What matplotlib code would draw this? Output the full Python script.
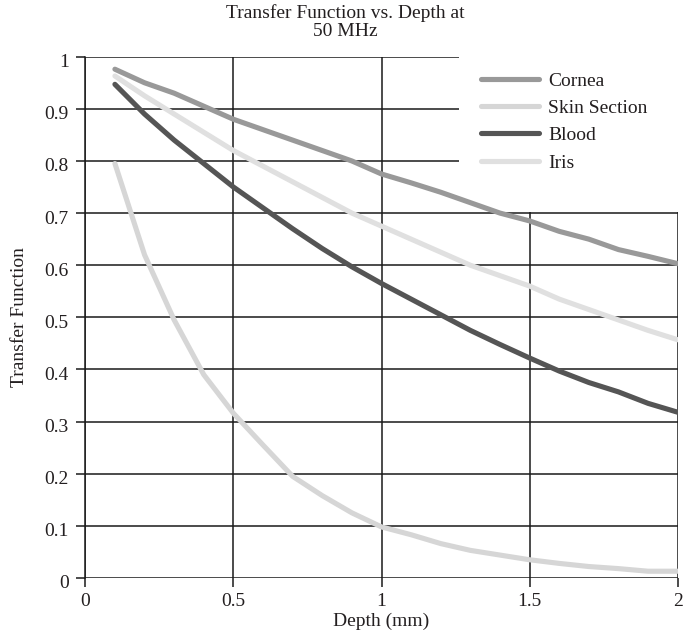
import matplotlib
matplotlib.use("Agg")
import matplotlib.pyplot as plt
from matplotlib.patches import Rectangle
from matplotlib.transforms import ScaledTranslation

depth = [0.1, 0.2, 0.3, 0.4, 0.5, 0.6, 0.7, 0.8, 0.9, 1.0,
         1.1, 1.2, 1.3, 1.4, 1.5, 1.6, 1.7, 1.8, 1.9, 2.0]
cornea = [0.976, 0.950, 0.930, 0.905, 0.880, 0.860, 0.840, 0.820, 0.800, 0.775,
          0.758, 0.740, 0.720, 0.700, 0.685, 0.665, 0.650, 0.630, 0.617, 0.603]
skin_section = [0.795, 0.620, 0.495, 0.390, 0.316, 0.255, 0.195, 0.158, 0.125, 0.098,
                0.083, 0.066, 0.053, 0.044, 0.035, 0.028, 0.022, 0.018, 0.013, 0.013]
blood = [0.947, 0.890, 0.840, 0.795, 0.750, 0.710, 0.670, 0.632, 0.597, 0.565,
         0.535, 0.505, 0.475, 0.448, 0.422, 0.397, 0.375, 0.357, 0.335, 0.318]
iris = [0.963, 0.925, 0.890, 0.855, 0.820, 0.790, 0.760, 0.730, 0.700, 0.675,
        0.650, 0.625, 0.600, 0.580, 0.560, 0.535, 0.515, 0.495, 0.475, 0.457]

series_names = ["Cornea", "Skin Section", "Blood", "Iris"]
series_values = [cornea, skin_section, blood, iris]
series_colors = ["#999999", "#d6d6d6", "#555555", "#e0e0e0"]

x_ticks = [0, 0.5, 1, 1.5, 2]
x_tick_labels = ["0", "0.5", "1", "1.5", "2"]
y_ticks = [0, 0.1, 0.2, 0.3, 0.4, 0.5, 0.6, 0.7, 0.8, 0.9, 1.0]
y_tick_labels = ["0", "0.1", "0.2", "0.3", "0.4", "0.5", "0.6", "0.7", "0.8", "0.9", "1"]

plt.rcParams['font.family'] = ['Liberation Serif', 'DejaVu Serif']
TXT = "#231f20"
FS = 14

W, H = 685, 633
fig = plt.figure(figsize=(W / 100, H / 100), dpi=100)
ax = fig.add_axes([85.3 / W, 1 - 578 / H, (677.7 - 85.3) / W, (578 - 56.7) / H])

ax.set_xlim(0, 2)
ax.set_ylim(0, 1)
ax.set_axisbelow(True)
ax.grid(True, color="#1a1a1a", linewidth=1.1)

for sp in ["top", "right"]:
    ax.spines[sp].set_visible(False)
ax.spines["bottom"].set_visible(False)
ax.spines["left"].set_color("#1a1a1a")
ax.spines["left"].set_linewidth(1.1)
ax.spines["left"].set_zorder(0.6)

ax.set_xticks(x_ticks)
ax.set_xticklabels(x_tick_labels)
ax.set_yticks(y_ticks)
ax.set_yticklabels(y_tick_labels)
ax.tick_params(axis="both", direction="out", length=6.5, width=1.1, color="#1a1a1a",
               labelsize=FS, labelcolor=TXT)
ax.tick_params(axis="y", pad=5.5)
ax.tick_params(axis="x", pad=4)
for lab in ax.get_yticklabels():
    lab.set_transform(lab.get_transform() + ScaledTranslation(0, -4 / 100, fig.dpi_scale_trans))

# white area behind the legend, covering the grid
ax.add_patch(Rectangle((1.262, 0.703), 1.0, 0.6, facecolor="white", edgecolor="none",
                       zorder=1, clip_on=False))

handles = []
for name, vals, col in zip(series_names, series_values, series_colors):
    h, = ax.plot(depth, vals, color=col, linewidth=3.7, solid_capstyle="round",
                 solid_joinstyle="round", label=name, zorder=3)
    handles.append(h)

leg = fig.legend(handles=handles, loc="upper left",
                 bbox_to_anchor=(481 / W, 1 - 72 / H), frameon=False, fontsize=FS,
                 handlelength=3.0, handletextpad=0.45, labelspacing=0.5, borderpad=0,
                 borderaxespad=0)
for t in leg.get_texts():
    t.set_color(TXT)

ax.set_xlabel("Depth (mm)", fontsize=FS, color=TXT, labelpad=2)
ax.set_ylabel("Transfer Function", fontsize=FS, color=TXT, labelpad=12)

fig.text(345 / W, 1 - 22 / H, "Transfer Function vs. Depth at\n50 MHz", ha="center", va="center",
         fontsize=FS, color=TXT, linespacing=1.1)

fig.savefig("out.png", dpi=100)
